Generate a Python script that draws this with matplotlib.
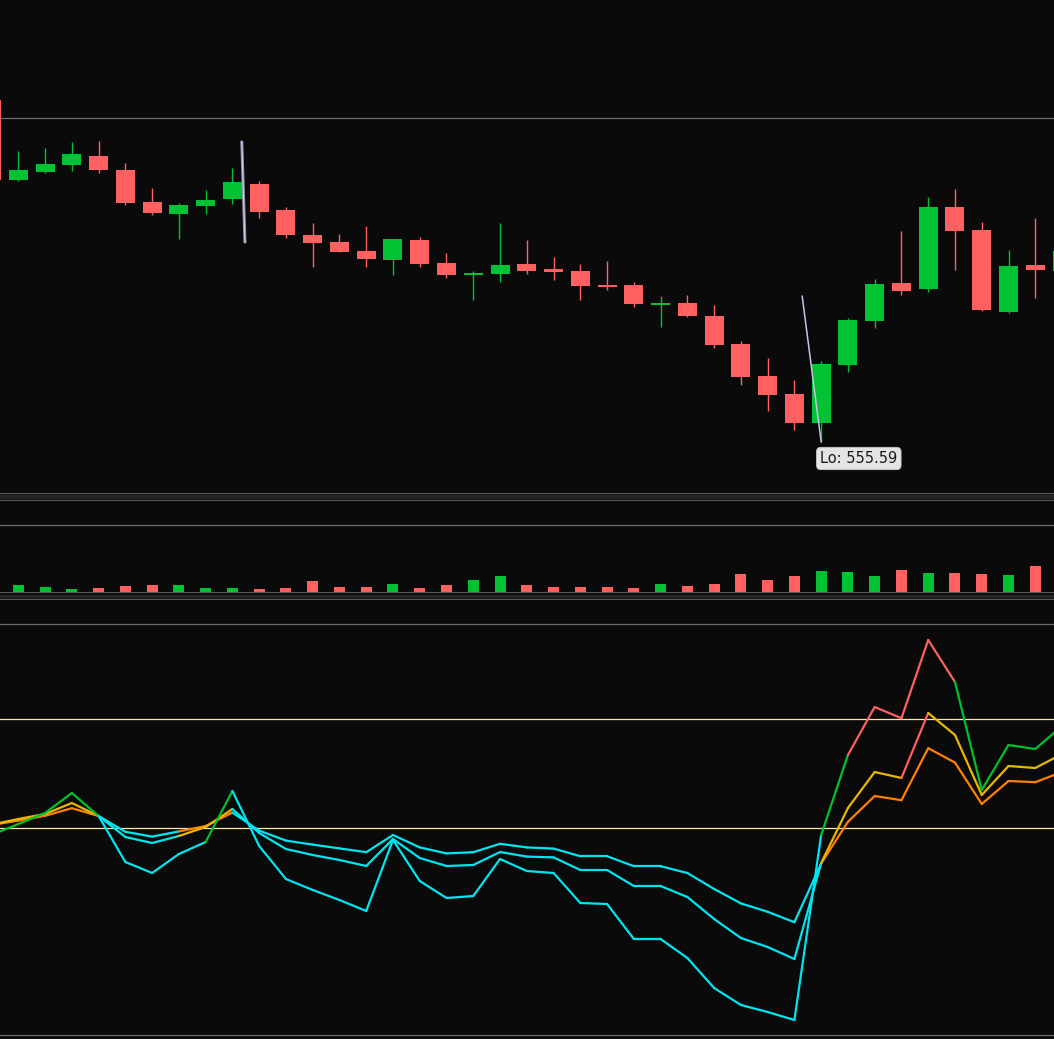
import matplotlib
matplotlib.use("Agg")
import matplotlib.pyplot as plt
from matplotlib.collections import LineCollection
from matplotlib.patches import Rectangle
import numpy as np

# ---------------- data ----------------
idx = list(range(-1, 40))
opens = [641.09, 621.09, 623.09, 624.84, 627.09, 623.59, 615.59, 612.59, 614.59, 616.34,
         620.09, 613.59, 607.34, 605.59, 603.34, 601.09, 606.09, 600.34, 597.34, 597.59,
         600.09, 598.84, 598.34, 594.84, 594.84, 589.84, 590.34, 587.09, 580.09, 572.09,
         567.59, 560.34, 574.84, 585.84, 595.34, 593.84, 614.34, 608.59, 588.09, 599.84,
         598.34]
highs = [641.09, 628.34, 629.09, 630.59, 630.84, 625.34, 619.09, 615.34, 618.59, 624.09,
         620.84, 614.34, 610.34, 607.59, 609.59, 606.34, 606.84, 602.84, 598.34, 610.34,
         606.09, 601.84, 600.09, 600.84, 595.59, 592.09, 592.34, 589.84, 580.84, 576.59,
         571.09, 575.84, 586.59, 596.34, 608.34, 616.84, 618.84, 610.59, 603.59, 611.59,
         603.34]
lows = [621.09, 620.84, 622.92, 623.34, 622.84, 614.84, 612.34, 606.34, 612.59, 615.09,
        611.59, 606.59, 599.34, 603.09, 599.34, 597.34, 599.34, 596.59, 591.09, 595.59,
        597.59, 596.09, 591.09, 593.59, 589.34, 584.34, 586.84, 579.09, 569.84, 563.34,
        558.59, 555.59, 573.09, 584.09, 592.34, 593.09, 598.59, 588.34, 587.84, 591.59,
        598.34]
closes = [621.09, 623.59, 625.09, 627.59, 623.59, 615.34, 612.84, 614.84, 616.09, 620.59,
          613.09, 607.34, 605.34, 603.09, 601.34, 606.34, 600.09, 597.34, 597.84, 599.84,
          598.34, 598.09, 594.59, 594.34, 590.09, 590.34, 587.09, 579.84, 571.84, 567.34,
          560.34, 575.09, 586.09, 595.09, 593.34, 614.34, 608.34, 588.59, 599.59, 598.59,
          603.34]
volumes = [1000, 700, 500, 300, 400, 600, 700, 700, 400, 400,
           300, 400, 1100, 500, 500, 800, 400, 700, 1200, 1600,
           700, 500, 500, 500, 400, 800, 600, 800, 1800, 1200,
           1600, 2100, 2000, 1600, 2200, 1900, 1900, 1800, 1700, 2600,
           2000]
line_fast = [50.0, 52.75, 55.5, 60.5, 54.75, 43.25, 40.5, 45.25, 48.25, 61.0,
             47.25, 39.0, 36.25, 33.75, 31.0, 48.75, 38.5, 34.25, 34.75, 44.0,
             41.0, 40.5, 33.0, 32.75, 24.0, 24.0, 19.25, 11.75, 7.5, 5.75,
             3.75, 50.0, 70.0, 82.0, 79.2, 98.75, 88.25, 61.25, 72.5, 71.5,
             77.25]
line_mid = [52.6, 54.0, 55.25, 58.0, 54.75, 49.5, 48.0, 49.75, 52.0, 56.5,
            50.5, 46.5, 45.0, 43.75, 42.25, 49.0, 44.25, 42.25, 42.5, 45.75,
            44.6, 44.4, 41.25, 41.25, 37.25, 37.25, 34.5, 29.0, 24.25, 22.0,
            19.0, 43.0, 56.75, 65.75, 64.25, 80.5, 75.0, 60.0, 67.25, 66.75,
            70.25]
line_slow = [52.5, 53.6, 54.8, 56.7, 54.75, 50.8, 49.6, 50.9, 52.25, 55.6,
             51.1, 48.6, 47.6, 46.65, 45.7, 50.0, 46.9, 45.4, 45.7, 47.8,
             46.9, 46.6, 44.7, 44.7, 42.2, 42.2, 40.5, 36.5, 32.9, 30.8,
             28.2, 42.9, 53.3, 59.75, 58.7, 71.7, 68.1, 57.75, 63.5, 63.2,
             65.75]
upper_level = 79.0
mid_level = 51.75
price_grid = 636.59
volume_grid = 6700
osc_grid = [0.0, 102.75]

# ---------------- style ----------------
BG = "#0a0a0a"
UP = "#00c233"
DOWN = "#ff6060"
CYAN = "#00e6f0"
HOT = "#ff6060"
GRID = "#6a6a6a"
SPINE = "#5a5a5a"
BAND = "#262626"
LEVEL = "#ffe9a8"
XLIM = (-0.684, 38.70)

W, H = 1054, 1039
fig = plt.figure(figsize=(W / 100, H / 100), dpi=100, facecolor=BG)


def frac(top_px, bottom_px):
    return [0, (H - bottom_px) / H, 1, (bottom_px - top_px) / H]


ax_p = fig.add_axes(frac(0, 493))
ax_v = fig.add_axes(frac(500, 592))
ax_o = fig.add_axes(frac(599, 1039))

for ax in (ax_p, ax_v, ax_o):
    ax.set_facecolor(BG)
    ax.set_xlim(*XLIM)
    ax.set_xticks([])
    ax.set_yticks([])
    for s in ax.spines.values():
        s.set_visible(False)

# separator bands between panels
for top_px in (495.5, 594.5):
    fig.patches.append(Rectangle((0, (H - top_px - 2.5) / H), 1, 2.5 / H,
                                 transform=fig.transFigure, color=BAND, zorder=0))

ax_p.spines["bottom"].set_visible(True)
ax_p.spines["bottom"].set_color(SPINE)
ax_v.spines["top"].set_visible(True)
ax_v.spines["top"].set_color(SPINE)
ax_v.spines["bottom"].set_visible(True)
ax_v.spines["bottom"].set_color(SPINE)
ax_o.spines["top"].set_visible(True)
ax_o.spines["top"].set_color(SPINE)

# ---------------- price panel ----------------
ax_p.set_ylim(542.84, 666.09)
ax_p.axhline(price_grid, color=GRID, lw=0.9, zorder=1)
o = np.array(opens); c = np.array(closes); hi = np.array(highs); lo = np.array(lows)
x = np.array(idx)
cols = [UP if cc >= oo else DOWN for oo, cc in zip(o, c)]
ax_p.vlines(x, lo, hi, colors=cols, lw=1.0, zorder=2)
body_h = np.maximum(np.abs(c - o), 0.4)
ax_p.bar(x, body_h, bottom=np.minimum(o, c), width=0.71, color=cols, zorder=3, linewidth=0)

# leader line near the start (unlabelled marker)
top_hi = max(highs[1:40])
ax_p.plot([8.35, 8.47], [top_hi, closes[12]], color="#8c8cab", lw=2.2, zorder=4,
          solid_capstyle="butt")
ax_p.plot([8.35, 8.47], [top_hi, closes[12]], color="#d8d8f0", lw=0.7, zorder=5)

# low annotation
lo_i = int(np.argmin(lows[1:40])) + 1
lo_x = idx[lo_i]; lo_y = lows[lo_i]
ax_p.annotate("", xy=(lo_x, lo_y), xytext=(-19, 146), textcoords="offset pixels",
              arrowprops=dict(arrowstyle="-", color="#c4c4e8", lw=1.1,
                              shrinkA=0, shrinkB=0), zorder=6)
ax_p.annotate(f"Lo: {lo_y:.2f}", xy=(lo_x, lo_y), xytext=(-1, -9), textcoords="offset pixels",
              ha="left", va="top", fontsize=10.5, color="#1a1a1a", family="DejaVu Sans",
              bbox=dict(boxstyle="round,pad=0.25,rounding_size=0.3", fc="#e4e4e4",
                        ec="#c8c8c8", lw=0.6), zorder=7)

# ---------------- volume panel ----------------
ax_v.set_ylim(0, 9200)
ax_v.axhline(volume_grid, color=GRID, lw=0.9, zorder=1)
ax_v.bar(x, volumes, width=0.41, color=cols, linewidth=0, zorder=2)

# ---------------- oscillator panel ----------------
ax_o.set_ylim(-1, 109)
for g in osc_grid:
    ax_o.axhline(g, color=GRID, lw=0.9, zorder=1)
ax_o.axhline(upper_level, color=LEVEL, lw=0.9, zorder=1)
ax_o.axhline(mid_level, color=LEVEL, lw=0.9, zorder=1)


def colored_line(ax, vals, mid_color, z):
    vals = np.asarray(vals)
    pts = np.column_stack([x, vals])
    segs = [pts[i - 1:i + 1] for i in range(1, len(pts))]
    seg_cols = []
    for v in vals[1:]:
        if v >= upper_level:
            seg_cols.append(HOT)
        elif v >= mid_level:
            seg_cols.append(mid_color)
        else:
            seg_cols.append(CYAN)
    lc = LineCollection(segs, colors=seg_cols, linewidths=1.6, zorder=z,
                        capstyle="round", joinstyle="round")
    ax.add_collection(lc)


colored_line(ax_o, line_slow, "#ff8000", 3)
colored_line(ax_o, line_mid, "#e8b800", 4)
colored_line(ax_o, line_fast, "#00c12b", 5)

fig.savefig("out.png", dpi=100, facecolor=BG)
